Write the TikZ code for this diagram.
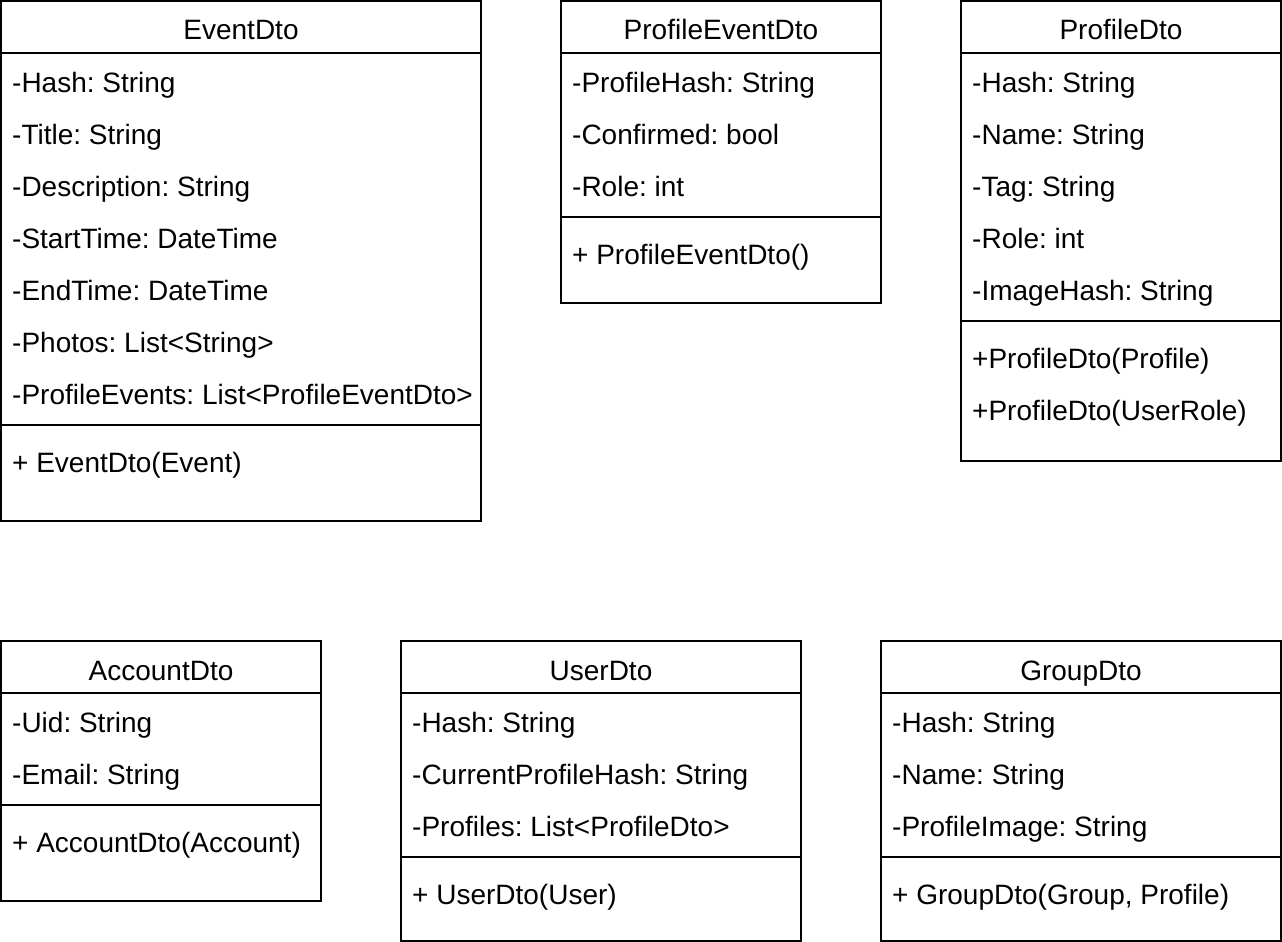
\documentclass[tikz,border=0pt]{standalone}
\usepackage{fontspec}
\setmainfont{Liberation Sans}
\tikzset{
  classbox/.style={draw, line width=2pt},
  classtitle/.style={anchor=base, inner sep=0pt, font=\fontsize{28}{33}\selectfont\frenchspacing},
  member/.style={anchor=base west, inner sep=0pt, font=\fontsize{28}{33}\selectfont\frenchspacing}
}

\begin{document}
\begin{tikzpicture}[x=1pt,y=-1pt]

  \useasboundingbox (0,0) rectangle (1282,942);

  % EventDto
  \pgfmathsetmacro{\xl}{1}
  \pgfmathsetmacro{\xr}{481}
  \pgfmathsetmacro{\yt}{1}
  \pgfmathsetmacro{\ysep}{425}
  \draw[classbox] (\xl,\yt) rectangle (\xr,521);
  \draw[classbox] (\xl,\yt+52) -- (\xr,\yt+52);
  \draw[classbox] (\xl,\ysep) -- (\xr,\ysep);
  \node[classtitle] (eventdto) at ({(\xl+\xr)/2},\yt+39) {EventDto};
  \foreach \txt [count=\i from 0] in {-Hash: String, -Title: String,
      -Description: String, -StartTime: DateTime, -EndTime: DateTime,
      -Photos: List<String>, -ProfileEvents: List<ProfileEventDto>}
  {
    \node[member] (eventattr\i) at (\xl+11,{\yt+91.7+52*\i}) {\txt};
  }
  \node[member] (eventop0) at (\xl+11,\ysep+47) {+ EventDto(Event)};

  % ProfileEventDto
  \pgfmathsetmacro{\xl}{561}
  \pgfmathsetmacro{\xr}{881}
  \pgfmathsetmacro{\yt}{1}
  \pgfmathsetmacro{\ysep}{217}
  \draw[classbox] (\xl,\yt) rectangle (\xr,303);
  \draw[classbox] (\xl,\yt+52) -- (\xr,\yt+52);
  \draw[classbox] (\xl,\ysep) -- (\xr,\ysep);
  \node[classtitle] (profileeventdto) at ({(\xl+\xr)/2},\yt+39) {ProfileEventDto};
  \foreach \txt [count=\i from 0] in {-ProfileHash: String, -Confirmed: bool,
      -Role: int}
  {
    \node[member] (peattr\i) at (\xl+11,{\yt+91.7+52*\i}) {\txt};
  }
  \node[member] (peop0) at (\xl+11,\ysep+47) {+ ProfileEventDto()};

  % ProfileDto
  \pgfmathsetmacro{\xl}{961}
  \pgfmathsetmacro{\xr}{1281}
  \pgfmathsetmacro{\yt}{1}
  \pgfmathsetmacro{\ysep}{321}
  \draw[classbox] (\xl,\yt) rectangle (\xr,461);
  \draw[classbox] (\xl,\yt+52) -- (\xr,\yt+52);
  \draw[classbox] (\xl,\ysep) -- (\xr,\ysep);
  \node[classtitle] (profiledto) at ({(\xl+\xr)/2},\yt+39) {ProfileDto};
  \foreach \txt [count=\i from 0] in {-Hash: String, -Name: String,
      -Tag: String, -Role: int, -ImageHash: String}
  {
    \node[member] (profattr\i) at (\xl+11,{\yt+91.7+52*\i}) {\txt};
  }
  \foreach \txt [count=\i from 0] in {+ProfileDto(Profile), +ProfileDto(UserRole)}
  {
    \node[member] (profop\i) at (\xl+11,{\ysep+47+52*\i}) {\txt};
  }

  % AccountDto
  \pgfmathsetmacro{\xl}{1}
  \pgfmathsetmacro{\xr}{321}
  \pgfmathsetmacro{\yt}{641}
  \pgfmathsetmacro{\ysep}{805}
  \draw[classbox] (\xl,\yt) rectangle (\xr,901);
  \draw[classbox] (\xl,\yt+52) -- (\xr,\yt+52);
  \draw[classbox] (\xl,\ysep) -- (\xr,\ysep);
  \node[classtitle] (accountdto) at ({(\xl+\xr)/2},\yt+39) {AccountDto};
  \foreach \txt [count=\i from 0] in {-Uid: String, -Email: String}
  {
    \node[member] (accattr\i) at (\xl+11,{\yt+91.7+52*\i}) {\txt};
  }
  \node[member] (accop0) at (\xl+11,\ysep+47) {+ AccountDto(Account)};

  % UserDto
  \pgfmathsetmacro{\xl}{401}
  \pgfmathsetmacro{\xr}{801}
  \pgfmathsetmacro{\yt}{641}
  \pgfmathsetmacro{\ysep}{857}
  \draw[classbox] (\xl,\yt) rectangle (\xr,941);
  \draw[classbox] (\xl,\yt+52) -- (\xr,\yt+52);
  \draw[classbox] (\xl,\ysep) -- (\xr,\ysep);
  \node[classtitle] (userdto) at ({(\xl+\xr)/2},\yt+39) {UserDto};
  \foreach \txt [count=\i from 0] in {-Hash: String,
      -CurrentProfileHash: String, -Profiles: List<ProfileDto>}
  {
    \node[member] (userattr\i) at (\xl+11,{\yt+91.7+52*\i}) {\txt};
  }
  \node[member] (userop0) at (\xl+11,\ysep+47) {+ UserDto(User)};

  % GroupDto
  \pgfmathsetmacro{\xl}{881}
  \pgfmathsetmacro{\xr}{1281}
  \pgfmathsetmacro{\yt}{641}
  \pgfmathsetmacro{\ysep}{857}
  \draw[classbox] (\xl,\yt) rectangle (\xr,941);
  \draw[classbox] (\xl,\yt+52) -- (\xr,\yt+52);
  \draw[classbox] (\xl,\ysep) -- (\xr,\ysep);
  \node[classtitle] (groupdto) at ({(\xl+\xr)/2},\yt+39) {GroupDto};
  \foreach \txt [count=\i from 0] in {-Hash: String, -Name: String,
      -ProfileImage: String}
  {
    \node[member] (groupattr\i) at (\xl+11,{\yt+91.7+52*\i}) {\txt};
  }
  \node[member] (groupop0) at (\xl+11,\ysep+47) {+ GroupDto(Group, Profile)};

\end{tikzpicture}
\end{document}
